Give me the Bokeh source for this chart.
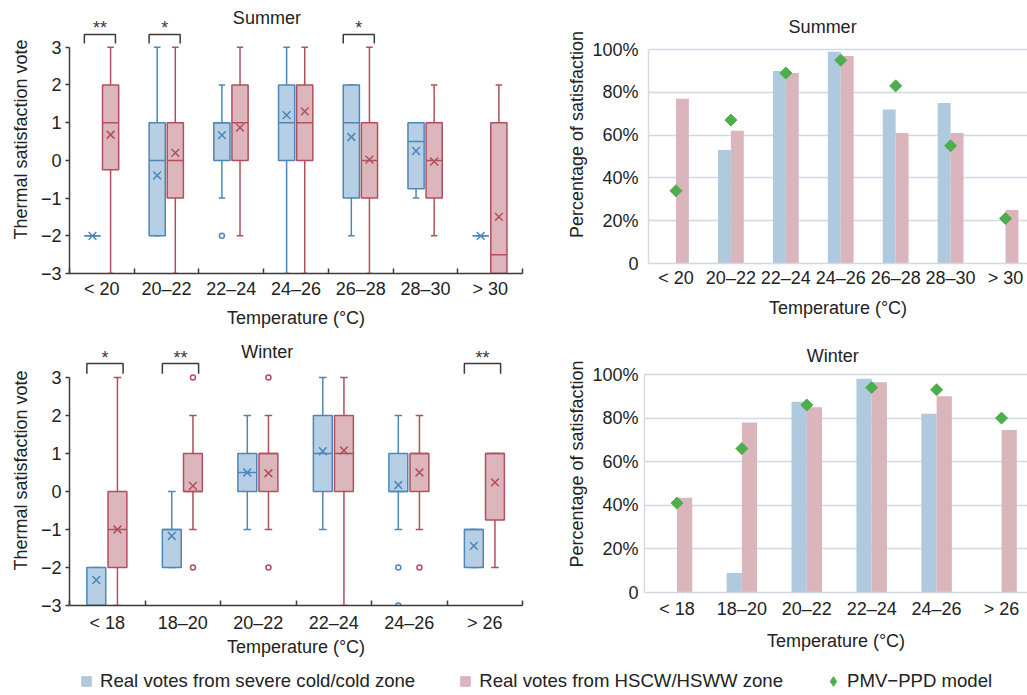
import numpy as np
from bokeh.plotting import figure
from bokeh.layouts import column, row
from bokeh.models import ColumnDataSource, FixedTicker, Range1d, Legend, LegendItem
from bokeh.core.properties import value
from bokeh.embed import file_html
from bokeh.resources import INLINE

FONT = "Liberation Sans"
TXT = "#222222"

# ---------------- data ----------------
SUMMER_CATS = ["< 20", "20–22", "22–24", "24–26", "26–28", "28–30", "> 30"]
WINTER_CATS = ["< 18", "18–20", "20–22", "22–24", "24–26", "> 26"]
VOTE_TICKS = [-3, -2, -1, 0, 1, 2, 3]
VOTE_LABELS = ["−3", "−2", "−1", "0", "1", "2", "3"]
PCT_TICKS = [0, 20, 40, 60, 80, 100]
PCT_LABELS = ["0", "20%", "40%", "60%", "80%", "100%"]

# Summer thermal satisfaction votes - severe cold/cold zone
S_COLD_LOW = [-2, -2, -1, -3, -2, -1, -2]
S_COLD_Q1 = [-2, -2, 0, 0, -1, -0.75, -2]
S_COLD_MED = [-2, 0, 1, 1, 1, 0.5, -2]
S_COLD_Q3 = [-2, 1, 1, 2, 2, 1, -2]
S_COLD_HIGH = [-2, 3, 2, 3, 2, 1, -2]
S_COLD_MEAN = [-2, -0.4, 0.67, 1.2, 0.62, 0.25, -2]
S_COLD_OUT_CAT = [2]
S_COLD_OUT_VAL = [-2]
# Summer - HSCW/HSWW zone
S_HOT_LOW = [-3, -3, -2, -3, -3, -2, -3]
S_HOT_Q1 = [-0.25, -1, 0, 0, -1, -1, -3]
S_HOT_MED = [1, 0, 1, 1, 0, 0, -2.5]
S_HOT_Q3 = [2, 1, 2, 2, 1, 1, 1]
S_HOT_HIGH = [3, 3, 3, 3, 3, 2, 2]
S_HOT_MEAN = [0.68, 0.2, 0.87, 1.3, 0.02, -0.03, -1.5]
S_HOT_OUT_CAT = []
S_HOT_OUT_VAL = []
S_SIG_CAT = [0, 1, 4]
S_SIG_TXT = ["**", "*", "*"]

# Winter - severe cold/cold zone
W_COLD_LOW = [-3, -2, -1, -1, -1, -2]
W_COLD_Q1 = [-3, -2, 0, 0, 0, -2]
W_COLD_MED = [-3, -1, 0.5, 1, 0, -1]
W_COLD_Q3 = [-2, -1, 1, 2, 1, -1]
W_COLD_HIGH = [-2, 0, 2, 3, 2, -1]
W_COLD_MEAN = [-2.33, -1.17, 0.5, 1.06, 0.17, -1.43]
W_COLD_OUT_CAT = [4, 4]
W_COLD_OUT_VAL = [-2, -3]
# Winter - HSCW/HSWW zone
W_HOT_LOW = [-3, -1, -1, -3, -1, -2]
W_HOT_Q1 = [-2, 0, 0, 0, 0, -0.75]
W_HOT_MED = [-1, 0, 1, 1, 1, 1]
W_HOT_Q3 = [0, 1, 1, 2, 1, 1]
W_HOT_HIGH = [3, 2, 2, 3, 2, 1]
W_HOT_MEAN = [-1, 0.15, 0.48, 1.08, 0.5, 0.24]
W_HOT_OUT_CAT = [1, 1, 2, 2, 4]
W_HOT_OUT_VAL = [3, -2, 3, -2, -2]
W_SIG_CAT = [0, 1, 5]
W_SIG_TXT = ["*", "**", "**"]

# Percentage of satisfaction
S_PCT_COLD = [None, 53, 90, 99, 72, 75, None]
S_PCT_HOT = [77, 62, 89, 97, 61, 61, 25]
S_PCT_PMV = [34, 67, 89, 95, 83, 55, 21]
W_PCT_COLD = [None, 9, 87.5, 98, 82, None]
W_PCT_HOT = [43.5, 78, 85, 96.5, 90, 74.5]
W_PCT_PMV = [41, 66, 86, 94, 93, 80]

TITLE_S = "Summer"
TITLE_W = "Winter"
XLABEL = "Temperature (°C)"
YLABEL_BOX = "Thermal satisfaction vote"
YLABEL_BAR = "Percentage of satisfaction"
LEG_COLD = "Real votes from severe cold/cold zone"
LEG_HOT = "Real votes from HSCW/HSWW zone"
LEG_PMV = "PMV−PPD model"

# ---------------- styles ----------------
BLUE_LINE = "#4d87b9"
BLUE_FILL = "#b6cfe4"
RED_LINE = "#b14f5d"
RED_FILL = "#ddb6bd"
BAR_BLUE = "#afc9de"
BAR_RED = "#dbb5bc"
GREEN = "#4cae4c"
GRID = "#d3d8e5"
AXIS_DARK = "#3a3a3a"

BOX_W = 0.25
OFF_C = -0.145
OFF_H = 0.135
CAP_W = 0.1
BAR_W = 0.235


def style_common(p):
    p.outline_line_color = None
    p.background_fill_color = "white"
    p.border_fill_color = "white"
    for ax in (p.xaxis[0], p.yaxis[0]):
        ax.major_label_text_font = FONT
        ax.major_label_text_font_size = "18px"
        ax.major_label_text_color = TXT
        ax.axis_label_text_font = FONT
        ax.axis_label_text_font_size = "18px"
        ax.axis_label_text_font_style = "normal"
        ax.axis_label_text_color = TXT


def title_text(p, x, y, txt):
    p.text(x=[x], y=[y], text=[txt], text_align="center", text_baseline="middle",
           text_font=value(FONT), text_font_size="18px", text_color=TXT)


def box_series(p, off, low, q1, med, q3, high, mean, out_cat, out_val, line, fill):
    x = np.arange(len(low)) + off
    src = ColumnDataSource(dict(
        x=x, low=low, q1=q1, med=med, q3=q3, high=high, mean=mean,
        xl=x - BOX_W / 2, xr=x + BOX_W / 2, cl=x - CAP_W / 2, cr=x + CAP_W / 2))
    kw = dict(source=src, line_color=line, line_width=1.5)
    p.segment(x0="x", y0="low", x1="x", y1="q1", **kw)
    p.segment(x0="x", y0="q3", x1="x", y1="high", **kw)
    p.segment(x0="cl", y0="low", x1="cr", y1="low", **kw)
    p.segment(x0="cl", y0="high", x1="cr", y1="high", **kw)
    p.vbar(x="x", width=BOX_W, bottom="q1", top="q3", fill_color=fill, **kw)
    p.segment(x0="xl", y0="med", x1="xr", y1="med", **kw)
    p.scatter(x="x", y="mean", marker="x", size=11, **kw)
    if out_cat:
        p.scatter(x=np.array(out_cat) + off, y=out_val, marker="circle", size=5,
                  line_color=line, line_width=1.5, fill_color="white")


def brackets(p, cats, stars, y_top, y_leg, y_star):
    xs, ys = [], []
    for c in cats:
        x0, x1 = c - 0.27, c + 0.21
        xs.append([x0, x0, x1, x1])
        ys.append([y_leg, y_top, y_top, y_leg])
    p.multi_line(xs=xs, ys=ys, line_color=AXIS_DARK, line_width=1.5)
    p.text(x=[c - 0.03 for c in cats], y=[y_star] * len(cats), text=stars,
           text_align="center", text_baseline="middle", text_font=value(FONT),
           text_font_size="18px", text_color=AXIS_DARK)


def box_panel(cats, width, height, y_end, b_bottom, lab_standoff, axl_standoff):
    n = len(cats)
    p = figure(width=width, height=height, output_backend="svg", toolbar_location=None,
               x_range=Range1d(-0.5, n - 0.5), y_range=Range1d(-3, y_end),
               min_border_left=69, min_border_right=width - 522, min_border_top=5,
               min_border_bottom=b_bottom)
    style_common(p)
    p.grid.visible = False
    xa, ya = p.xaxis[0], p.yaxis[0]
    xa.ticker = FixedTicker(ticks=list(range(n)), minor_ticks=[i - 0.5 for i in range(n + 1)])
    xa.major_label_overrides = {i: c for i, c in enumerate(cats)}
    xa.major_tick_line_color = None
    xa.major_tick_out = 0
    xa.major_tick_in = 0
    xa.minor_tick_line_color = AXIS_DARK
    xa.minor_tick_in = 5
    xa.minor_tick_out = 0
    xa.minor_tick_line_width = 1.5
    xa.axis_line_color = AXIS_DARK
    xa.axis_line_width = 1.5
    xa.major_label_standoff = lab_standoff
    xa.axis_label = XLABEL
    xa.axis_label_standoff = axl_standoff
    ya.ticker = FixedTicker(ticks=VOTE_TICKS, minor_ticks=[])
    ya.major_label_overrides = {t: l for t, l in zip(VOTE_TICKS, VOTE_LABELS)}
    ya.bounds = (-3, 3)
    ya.axis_line_color = AXIS_DARK
    ya.axis_line_width = 1.5
    ya.major_tick_line_color = AXIS_DARK
    ya.major_tick_line_width = 1.5
    ya.major_tick_out = 4
    ya.major_tick_in = 0
    ya.major_label_standoff = 4
    ya.axis_label = YLABEL_BOX
    ya.axis_label_standoff = 7
    return p


def bar_panel(cats, width, height, left, x_end, y_end, b_bottom, lab_standoff, axl_standoff,
              ylab_standoff, cold, hot, pmv):
    n = len(cats)
    p = figure(width=width, height=height, output_backend="svg", toolbar_location=None,
               x_range=Range1d(-0.5, x_end), y_range=Range1d(0, y_end),
               min_border_left=left, min_border_right=0, min_border_top=5,
               min_border_bottom=b_bottom)
    style_common(p)
    p.xgrid.visible = False
    p.ygrid.ticker = FixedTicker(ticks=PCT_TICKS)
    p.ygrid.grid_line_color = GRID
    p.ygrid.grid_line_width = 1.5
    xa, ya = p.xaxis[0], p.yaxis[0]
    xa.ticker = FixedTicker(ticks=list(range(n)), minor_ticks=[])
    xa.major_label_overrides = {i: c for i, c in enumerate(cats)}
    xa.major_tick_line_color = None
    xa.major_tick_out = 0
    xa.major_tick_in = 0
    xa.minor_tick_line_color = None
    xa.axis_line_color = GRID
    xa.axis_line_width = 1.5
    xa.major_label_standoff = lab_standoff
    xa.axis_label = XLABEL
    xa.axis_label_standoff = axl_standoff
    ya.ticker = FixedTicker(ticks=PCT_TICKS, minor_ticks=[])
    ya.major_label_overrides = {t: l for t, l in zip(PCT_TICKS, PCT_LABELS)}
    ya.bounds = (0, 100)
    ya.axis_line_color = GRID
    ya.axis_line_width = 1.5
    ya.major_tick_line_color = None
    ya.major_tick_out = 0
    ya.major_tick_in = 0
    ya.minor_tick_line_color = None
    ya.major_label_standoff = ylab_standoff
    ya.axis_label = YLABEL_BAR
    ya.axis_label_standoff = 2
    idx = np.arange(n)
    p.vbar(x=idx - BAR_W / 2, width=BAR_W, bottom=0, top=cold, fill_color=BAR_BLUE, line_color=None)
    p.vbar(x=idx + BAR_W / 2, width=BAR_W, bottom=0, top=hot, fill_color=BAR_RED, line_color=None)
    p.scatter(x=idx, y=pmv, marker="square", angle=np.pi / 4, size=8.5,
              fill_color=GREEN, line_color=GREEN)
    return p


# ---------------- panels ----------------
p1 = box_panel(SUMMER_CATS, 527, 330, 3 + 42 / 37.9, 56, 5, 6)
box_series(p1, OFF_C, S_COLD_LOW, S_COLD_Q1, S_COLD_MED, S_COLD_Q3, S_COLD_HIGH, S_COLD_MEAN,
           S_COLD_OUT_CAT, S_COLD_OUT_VAL, BLUE_LINE, BLUE_FILL)
box_series(p1, OFF_H, S_HOT_LOW, S_HOT_Q1, S_HOT_MED, S_HOT_Q3, S_HOT_HIGH, S_HOT_MEAN,
           S_HOT_OUT_CAT, S_HOT_OUT_VAL, RED_LINE, RED_FILL)
brackets(p1, S_SIG_CAT, S_SIG_TXT, 3.34, 3.1, 3.5)
title_text(p1, 2.55, 3.78, TITLE_S)

p2 = bar_panel(SUMMER_CATS, 500, 330, 121, (1027 - 675) / 55, 100 + 44 / 2.14, 67, 4, 7, 10,
               S_PCT_COLD, S_PCT_HOT, S_PCT_PMV)
title_text(p2, 2.67, 110.3, TITLE_S)

p3 = box_panel(WINTER_CATS, 527, 335, 3 + 42 / 38, 60, 7, 1)
box_series(p3, OFF_C, W_COLD_LOW, W_COLD_Q1, W_COLD_MED, W_COLD_Q3, W_COLD_HIGH, W_COLD_MEAN,
           W_COLD_OUT_CAT, W_COLD_OUT_VAL, BLUE_LINE, BLUE_FILL)
box_series(p3, OFF_H, W_HOT_LOW, W_HOT_Q1, W_HOT_MED, W_HOT_Q3, W_HOT_HIGH, W_HOT_MEAN,
           W_HOT_OUT_CAT, W_HOT_OUT_VAL, RED_LINE, RED_FILL)
brackets(p3, W_SIG_CAT, W_SIG_TXT, 3.37, 3.1, 3.52)
title_text(p3, 2.12, 3.68, TITLE_W)

p4 = bar_panel(WINTER_CATS, 500, 335, 117, (1027 - 676) / 65, 100 + 39 / 2.18, 73, 6, 9, 6,
               W_PCT_COLD, W_PCT_HOT, W_PCT_PMV)
title_text(p4, 2.4, 108.7, TITLE_W)

# ---------------- legend ----------------
pl = figure(width=1027, height=30, output_backend="svg", toolbar_location=None,
            x_range=Range1d(0, 1), y_range=Range1d(0, 1),
            min_border_left=0, min_border_right=0, min_border_top=0, min_border_bottom=0)
pl.outline_line_color = None
pl.axis.visible = False
pl.grid.visible = False
r1 = pl.scatter(x=[-10], y=[-10], marker="square", size=9, fill_color=BAR_BLUE, line_color=BAR_BLUE)
r2 = pl.scatter(x=[-10], y=[-10], marker="square", size=9, fill_color=BAR_RED, line_color=BAR_RED)
r3 = pl.scatter(x=[-10], y=[-10], marker="diamond", size=13, fill_color=GREEN, line_color=GREEN)
leg = Legend(items=[LegendItem(label=LEG_COLD, renderers=[r1]),
                    LegendItem(label=LEG_HOT, renderers=[r2]),
                    LegendItem(label=LEG_PMV, renderers=[r3])],
             orientation="horizontal", location=(74, 2),
             glyph_width=24, glyph_height=24, label_standoff=2, spacing=38,
             padding=0, margin=0, border_line_color=None, background_fill_alpha=0,
             label_text_font=FONT, label_text_font_size="18.6px", label_text_color=TXT)
pl.add_layout(leg, "center")

layout = column(row(p1, column(p2)), row(column(p3), p4), pl)

with open("out.html", "w") as f:
    f.write(file_html(layout, INLINE))
